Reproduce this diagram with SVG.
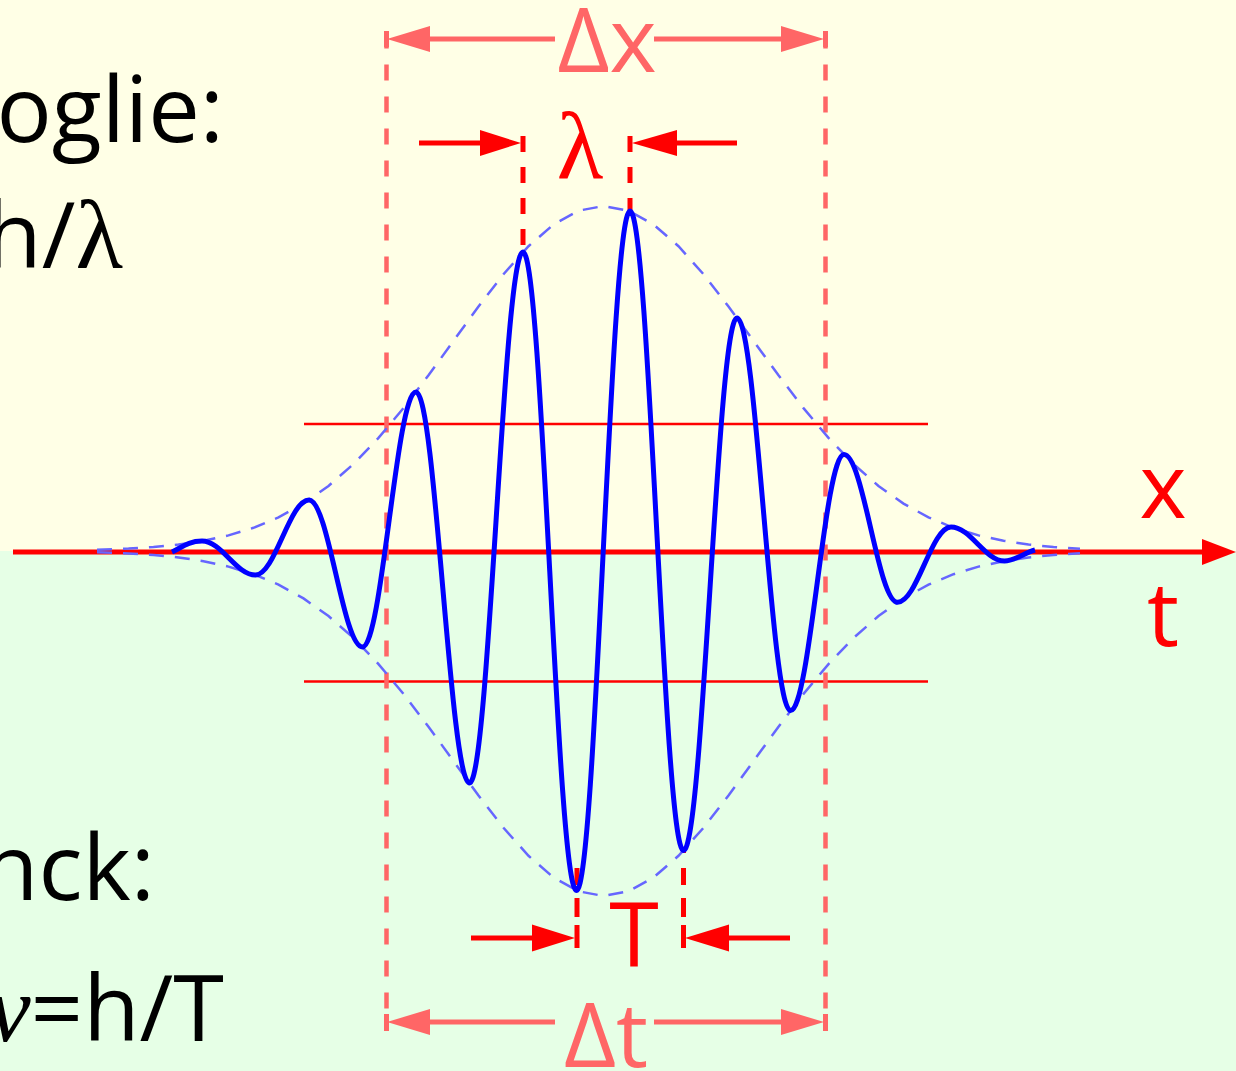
<svg xmlns="http://www.w3.org/2000/svg" width="1236" height="1071" viewBox="0 0 1236 1071">
<style>
.txt{font-family:"Open Sans","Noto Sans","Liberation Sans",sans-serif;}
.ser{font-family:"Liberation Serif","DejaVu Serif",serif;}
.blk{fill:#000;font-size:92px;}
.lbl{font-size:90px;text-anchor:middle;}
.red{fill:#ff0000;}
.pink{fill:#ff6666;}
.dimline{stroke:#ff6666;stroke-width:5;fill:none;}
.dimdash{stroke:#ff6666;stroke-width:4.5;fill:none;stroke-dasharray:16 16;}
.redline{stroke:#ff0000;stroke-width:5;fill:none;}
.env{stroke:#6666ff;stroke-width:2.5;fill:none;stroke-dasharray:15 11;}
</style>
<g id="background">
<rect x="0" y="0" width="1236" height="551" fill="#ffffe6"/>
<rect x="0" y="551" width="1236" height="520" fill="#e6ffe6"/>
</g>
<g id="labels-left" class="txt">
<text class="blk" x="224" y="142" text-anchor="end">de Broglie:</text>
<text class="blk" x="123" y="268" text-anchor="end">p=h/<tspan class="ser" font-size="98">λ</tspan></text>
<text class="blk" x="155" y="900" text-anchor="end">Planck:</text>
<text class="blk" x="224" y="1041" text-anchor="end">E=h<tspan class="ser" font-style="italic" font-size="96">ν</tspan>=h/T</text>
</g>
<g id="connectors">
<g id="amplitude-lines">
<line x1="304" y1="424" x2="928" y2="424" stroke="#ff0000" stroke-width="2.5"/>
<line x1="304" y1="681.5" x2="928" y2="681.5" stroke="#ff0000" stroke-width="2.5"/>
</g>
<g id="axis">
<line x1="13" y1="552" x2="1204" y2="552" stroke="#ff0000" stroke-width="5"/>
<polygon points="1236,552 1202,539 1202,565" fill="#ff0000"/>
</g>
<g id="delta-x-bounds">
<path class="dimdash" d="M386.5,32.5 V1010 M825.5,32.5 V1010"/>
<path class="dimline" d="M386.5,31 V47 M825.5,31 V47 M386.5,1014 V1031 M825.5,1014 V1031"/>
<path class="dimline" d="M555,39 H428 M654,39 H782 M555,1022 H428 M654,1022 H782"/>
<polygon class="pink" points="387,39 430,26 430,52"/>
<polygon class="pink" points="824,39 781,26 781,52"/>
<polygon class="pink" points="387,1022 430,1009 430,1035"/>
<polygon class="pink" points="824,1022 781,1009 781,1035"/>
</g>
<g id="lambda-marks">
<path class="redline" d="M523,136 V252 M630,136 V213" stroke-dasharray="16 15"/>
<path class="redline" d="M419,143 H482 M737,143 H675"/>
<polygon class="red" points="521,143 480,130 480,156"/>
<polygon class="red" points="632,143 677,130 677,156"/>
</g>
<g id="period-marks">
<path class="redline" d="M577,948 V868 M683.5,948 V848" stroke-dasharray="23 8 19 13 17 15 10"/>
<path class="redline" d="M471,938 H535 M790,938 H727"/>
<polygon class="red" points="575,938 532,924.5 532,951.5"/>
<polygon class="red" points="685,938 729,924.5 729,951.5"/>
</g>
</g>
<g id="envelope">
<path class="env" d="M97,549.7 L128.5,548.6 L153.5,547 L178.5,544.6 L203.5,540.8 L228.5,535.4 L253.5,527.8 L278.5,517.4 L303.5,503.6 L328.5,485.9 L353.5,464 L378.5,437.9 L403.5,408.1 L428.5,375.3 L453.5,340.9 L478.5,306.5 L503.5,274.2 L528.5,246.2 L553.5,224.5 L578.5,210.7 L603.5,206 L628.5,210.7 L653.5,224.5 L678.5,246.2 L703.5,274.2 L728.5,306.5 L753.5,340.9 L778.5,375.3 L803.5,408.1 L828.5,437.9 L853.5,464 L878.5,485.9 L903.5,503.6 L928.5,517.4 L953.5,527.8 L978.5,535.4 L1003.5,540.8 L1028.5,544.6 L1053.5,547 L1080,548.7"/>
<path class="env" d="M97,552.3 L128.5,553.4 L153.5,555 L178.5,557.4 L203.5,561.2 L228.5,566.6 L253.5,574.2 L278.5,584.6 L303.5,598.4 L328.5,616.1 L353.5,638 L378.5,664.1 L403.5,693.9 L428.5,726.7 L453.5,761.1 L478.5,795.5 L503.5,827.8 L528.5,855.8 L553.5,877.5 L578.5,891.3 L603.5,896 L628.5,891.3 L653.5,877.5 L678.5,855.8 L703.5,827.8 L728.5,795.5 L753.5,761.1 L778.5,726.7 L803.5,693.9 L828.5,664.1 L853.5,638 L878.5,616.1 L903.5,598.4 L928.5,584.6 L953.5,574.2 L978.5,566.6 L1003.5,561.2 L1028.5,557.4 L1053.5,555 L1080,553.3"/>
</g>
<g id="wave">
<path fill="none" stroke="#0000ff" stroke-width="5" d="M172,552 C181,548 188,541 202,541 C221.5,541 236,575 255.5,575 C275,575 289.5,500 309,500 C328.5,500 343,647 362.5,647 C382,647 396.5,392 416,392 C435.5,392 450,783 469.5,783 C489,783 503.5,252 523,252 C542.5,252 557,890.5 576.5,890.5 C596,890.5 610.5,211 630,211 C649.5,211 664,850.6 683.5,850.6 C703,850.6 717.5,318 737,318 C756.5,318 771,710.6 790.5,710.6 C810,710.6 824.5,454.6 844,454.6 C863.5,454.6 878,602.3 897.5,602.3 C917,602.3 931.5,527 951,527 C970.5,527 985,561 1004.5,561 C1015,561 1024,553 1035,550"/>
</g>
<g id="labels" class="txt">
<text class="lbl pink" x="607" y="72" font-size="88">Δx</text>
<text class="ser red" x="580" y="178" font-size="96" text-anchor="middle">λ</text>
<text class="lbl red" x="634" y="967">T</text>
<text class="lbl pink" x="606" y="1067" font-size="88">Δt</text>
<text class="lbl red" x="1163" y="518">x</text>
<text class="lbl red" x="1163" y="646">t</text>
</g>
</svg>
